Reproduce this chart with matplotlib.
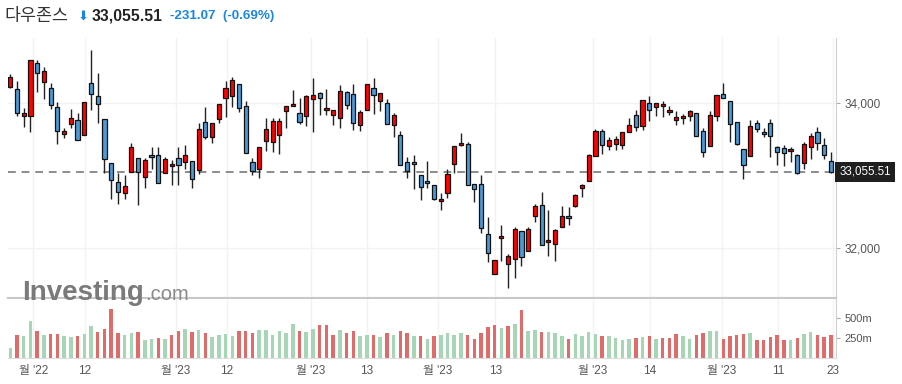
import numpy as np
import matplotlib
matplotlib.use("Agg")
import matplotlib.pyplot as plt
import matplotlib.transforms as mtransforms
from matplotlib.ticker import FuncFormatter

plt.rcParams['font.family'] = ['Liberation Sans', 'Noto Sans CJK KR', 'DejaVu Sans']

# daily candles (Dow Jones)
opens = [34230, 34193, 33830, 33821, 34552, 34290, 34207, 33945, 33572, 33710,
         33765, 33558, 34276, 34097, 33779, 33172, 32910, 32758, 33048, 33241,
         32979, 33282, 33282, 33034, 33131, 33241, 33186, 33200, 33075, 33738,
         33531, 33779, 34069, 34097, 34262, 33959, 33186, 33089, 33476, 33462,
         33558, 33890, 33959, 33862, 33821, 34055, 34138, 33903, 33834, 33793,
         34152, 34124, 33696, 33903, 34207, 34028, 34000, 33696, 33558, 33186,
         33186, 33006, 32924, 32868, 32648, 32758, 33158, 33420, 33434, 32882,
         32882, 32193, 31641, 32138, 31779, 31848, 32235, 31959, 32442, 32593,
         32083, 32055, 32290, 32442, 32580, 32828, 32924, 33269, 33614, 33407,
         33434, 33420, 33600, 33834, 33683, 34000, 33945, 33959, 33876, 33765,
         33793, 33821, 33862, 33614, 33407, 33821, 34124, 34028, 33738, 33365,
         33269, 33724, 33600, 33724, 33393, 33379, 33338, 33282, 33172, 33393,
         33600, 33420, 33200]
highs = [34400, 34313, 33940, 34593, 34598, 34497, 34276, 34014, 33655, 33917,
         33862, 34014, 34731, 34414, 33779, 33172, 33043, 33011, 33448, 33241,
         33241, 33393, 33393, 33255, 33213, 33393, 33420, 33200, 33724, 33945,
         33724, 33986, 34304, 34359, 34262, 34028, 33241, 33393, 33793, 33793,
         33793, 33959, 34179, 34069, 34110, 34345, 34152, 34193, 33903, 34248,
         34166, 34262, 33903, 34262, 34345, 34138, 34055, 33862, 33614, 33255,
         33282, 33006, 33200, 32868, 32758, 33089, 33406, 33586, 33462, 32882,
         33006, 32428, 31834, 32317, 31917, 32290, 32235, 32290, 32607, 32773,
         32524, 32262, 32580, 32566, 32745, 32883, 33296, 33641, 33641, 33531,
         33545, 33600, 33793, 33903, 34041, 34097, 34000, 34028, 33959, 33890,
         33848, 33903, 33862, 33655, 33890, 34110, 34276, 34028, 33738, 33365,
         33765, 33765, 33655, 33779, 33407, 33420, 33393, 33296, 33462, 33586,
         33669, 33517, 33324]
lows = [34216, 33825, 33678, 33600, 34152, 34055, 33922, 33434, 33526, 33664,
        33489, 33558, 33913, 33729, 33043, 32675, 32606, 32675, 33048, 32592,
        32827, 33089, 32896, 33034, 32868, 32868, 33089, 32827, 33020, 33503,
        33448, 33724, 33807, 33945, 33876, 33310, 33006, 32965, 33338, 33324,
        33296, 33655, 33959, 33710, 33683, 33600, 33834, 33834, 33696, 33655,
        33917, 33627, 33614, 33903, 33848, 33890, 33710, 33531, 33144, 32965,
        32813, 32661, 32827, 32661, 32523, 32689, 33034, 33406, 32868, 32634,
        32207, 31807, 31641, 31821, 31448, 31586, 31752, 31959, 32359, 32041,
        31890, 31821, 32290, 32317, 32566, 32704, 32924, 33269, 33296, 33351,
        33351, 33365, 33600, 33614, 33627, 33752, 33821, 33807, 33834, 33696,
        33710, 33752, 33545, 33255, 33407, 33752, 34069, 33462, 33420, 32951,
        33269, 33600, 33531, 33255, 33144, 33131, 33186, 33020, 33089, 33227,
        33351, 33227, 33034]
closes = [34359, 33862, 33868, 34593, 34414, 34442, 33972, 33614, 33620, 33793,
          33489, 34014, 34129, 33986, 33227, 32937, 32772, 32855, 33393, 33048,
          33213, 33255, 32896, 33227, 33158, 33150, 33282, 32951, 33641, 33531,
          33724, 33986, 34207, 34317, 33931, 33310, 33062, 33393, 33641, 33752,
          33760, 33959, 33986, 33738, 34097, 34110, 34069, 33931, 33903, 34166,
          33972, 33724, 33876, 34262, 34110, 34138, 33710, 33834, 33144, 33062,
          33158, 32841, 32896, 32675, 32680, 33020, 33406, 33448, 32868, 32813,
          32276, 31931, 31834, 32166, 31890, 32262, 31876, 32262, 32580, 32041,
          32110, 32248, 32442, 32414, 32731, 32869, 33282, 33614, 33420, 33489,
          33503, 33600, 33696, 33669, 34041, 33903, 34000, 33986, 33903, 33807,
          33821, 33890, 33545, 33324, 33834, 34110, 34069, 33710, 33434, 33144,
          33683, 33641, 33572, 33545, 33324, 33315, 33365, 33034, 33434, 33545,
          33448, 33287, 33055.51]
# volume in millions
volumes = [125, 280, 267, 455, 330, 280, 292, 292, 267, 254, 267, 292, 392, 317, 354,
           605, 304, 280, 304, 317, 217, 229, 242, 229, 280, 330, 354, 317, 342, 304,
           254, 280, 292, 267, 330, 330, 304, 342, 342, 280, 330, 304, 417, 330, 317,
           354, 405, 405, 280, 342, 304, 330, 267, 280, 280, 254, 304, 280, 330, 304,
           267, 267, 229, 267, 280, 304, 280, 304, 280, 229, 304, 379, 405, 367, 392,
           417, 592, 330, 342, 317, 317, 304, 267, 229, 292, 267, 317, 292, 267, 267,
           242, 217, 229, 242, 254, 267, 229, 242, 242, 292, 267, 229, 280, 304, 330,
           330, 229, 267, 280, 292, 304, 217, 217, 254, 280, 217, 217, 242, 292, 317,
           280, 254, 280]

tick_pos = [3.4, 11.1, 24.6, 32.2, 44.7, 53.0, 63.6, 72.1, 86.6, 95.1, 105.8, 114.1, 122.3]
tick_labels = ["월 '22", "12", "월 '23", "12", "월 '23", "13", "월 '23", "13",
               "월 '23", "14", "월 '23", "11", "23"]

name = "다우존스"
last_price = closes[-1]
change = -231.07
change_pct = -0.69

W, H = 902, 384


def box(l, t, r, b):
    return [l / W, 1 - b / H, (r - l) / W, (b - t) / H]


o = np.array(opens, float)
h = np.array(highs, float)
lo = np.array(lows, float)
c = np.array(closes, float)
v = np.array(volumes, float)
x = np.arange(len(c))
up = c >= o
prev = np.concatenate([[o[0]], c[:-1]])
vol_up = c >= prev

fig = plt.figure(figsize=(W / 100, H / 100), dpi=100)
ax = fig.add_axes(box(8, 38, 836, 298))
axv = fig.add_axes(box(8, 299, 836, 358), sharex=ax)

# candles
ax.vlines(x, lo, h, color='#222222', lw=1.0, zorder=2)
body_col = np.where(up, '#ff0000', '#4a9ad6')
body_h = np.maximum(np.abs(c - o), 12)
ax.bar(x, body_h, bottom=np.minimum(o, c), width=0.62, color=body_col,
       edgecolor='#111111', linewidth=0.9, zorder=3)

ax.axhline(last_price, color='#8c8c8c', lw=1.4, ls=(0, (4, 3)), zorder=1)

ax.set_xlim(-0.34, len(c) - 1 + 0.76)
ax.set_ylim(31315, 34900)
ax.yaxis.tick_right()
ax.set_yticks([32000, 34000])
ax.yaxis.set_major_formatter(FuncFormatter(lambda val, p: f"{val:,.0f}"))
ax.tick_params(axis='y', labelsize=8.5, labelcolor='#555555', color='#aaaaaa',
               length=3, pad=3)
ax.set_xticks(tick_pos)
ax.tick_params(axis='x', length=0, labelbottom=False)
ax.grid(color='#f2f2f2', lw=1)
ax.set_axisbelow(True)
for s in ['top', 'left']:
    ax.spines[s].set_visible(False)
ax.spines['right'].set_color('#d0d0d0')
ax.spines['bottom'].set_color('#c8c8c8')
ax.spines['bottom'].set_linewidth(1.5)

# last price tag
trans = mtransforms.blended_transform_factory(ax.transAxes, ax.transData)
ax.text(1.004, last_price, f"{last_price:,.2f}", transform=trans, ha='left',
        va='center', fontsize=8.3, color='white', zorder=10, clip_on=False,
        bbox=dict(boxstyle='square,pad=0.35', fc='#1f1f1f', ec='none'))

# volume
vol_col = np.where(vol_up, '#a6d6b5', '#e06b6b')
axv.bar(x, v, width=0.52, color=vol_col, zorder=2)
axv.set_ylim(0, 729)
axv.yaxis.tick_right()
axv.set_yticks([250, 500])
axv.set_yticklabels(['250m', '500m'])
axv.tick_params(axis='y', labelsize=8, labelcolor='#555555', color='#aaaaaa',
                length=3, pad=3)
axv.set_xticks(tick_pos)
axv.set_xticklabels(tick_labels)
axv.tick_params(axis='x', labelsize=8.5, labelcolor='#555555', length=0, pad=5)
axv.grid(axis='x', color='#f2f2f2', lw=1)
axv.set_axisbelow(True)
for s in ['top', 'left']:
    axv.spines[s].set_visible(False)
axv.spines['right'].set_color('#d0d0d0')
axv.spines['bottom'].set_color('#dddddd')

# header
fig.text(4 / W, 1 - 16 / H, name, fontsize=12.5, color='#333333', va='center', ha='left')
fig.text(78 / W, 1 - 16 / H, "⬇", fontsize=9.5, color='#1a86e0', va='center', ha='left',
         family=['DejaVu Sans'])
fig.text(92 / W, 1 - 16 / H, f"{last_price:,.2f}", fontsize=11.3, fontweight='bold',
         color='#222222', va='center', ha='left')
fig.text(170 / W, 1 - 16 / H, f"{change:,.2f}  ({change_pct:.2f}%)", fontsize=9.6,
         fontweight='bold', color='#1a86e0', va='center', ha='left')

# watermark
wm = fig.text(22 / W, 1 - 300 / H, "Investing", fontsize=20, fontweight='bold',
              color='#7a7a7a', va='baseline', ha='left', zorder=20)
fig.canvas.draw()
ext = wm.get_window_extent()
fig.text(ext.x1 / W + 1 / W, 1 - 300 / H, ".com", fontsize=14.5, color='#8a8a8a',
         va='baseline', ha='left', zorder=20)

fig.savefig("out.png", dpi=100)
